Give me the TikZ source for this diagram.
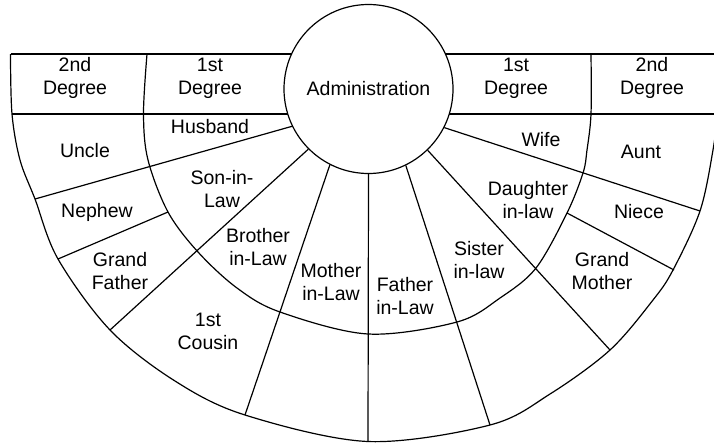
\documentclass[tikz,border=0pt]{standalone}
\usepackage{fontspec}
\setmainfont{Liberation Sans}
\begin{document}
\begin{tikzpicture}[x=1pt,y=-1pt,line width=1.2pt,line join=round,
  lbl/.style={font=\fontsize{19.5}{23}\selectfont,align=center,inner sep=0pt}]
\useasboundingbox (0,0) rectangle (714,442);
\clip (0,0) rectangle (714,442);
% central circle
\node[draw,circle,minimum size=169pt,inner sep=0pt,lbl] (admin) at (368.5,89) {Administration};
% outer boundary
\draw plot[smooth,tension=0.55] coordinates {(10.5,54) (12,114) (20,160) (35,199) (58,259) (110,330) (175,381) (245,415) (368,441.5) (490,425) (550,394) (610,350) (653,300) (673,270) (700,211) (713,150) (718,110)};
% inner ring
\draw plot[smooth,tension=0.55] coordinates {(147,54) (143.5,114) (148,160) (168,212) (198,252) (237,288) (280,312) (368,334) (457,322) (500,298) (536,268) (567,213) (583,173) (587,150) (591,114) (591,54)};
% header lines
\draw (10.5,54) -- (291.6,54);
\draw (445.4,54) -- (714,54);
\draw (12,114) -- (287.8,114);
\draw (449.2,114) -- (714,114);
% radial lines
\draw (admin.206.4) -- (35,199);
\draw (168,212) -- (58,259);
\draw (admin.225.7) -- (110,330);
\draw (admin.243.7) -- (245,415);
\draw (admin.270) -- (368,441.5);
\draw (admin.296.9) -- (490,425);
\draw (admin.314.8) -- (610,350);
\draw (admin.333.6) -- (700,211);
\draw (567,213) -- (674,270);
% labels
\node[lbl] (h2l) at (75,78) {2nd\\Degree};
\node[lbl] (h1l) at (210,78) {1st\\Degree};
\node[lbl] (h1r) at (516,78) {1st\\Degree};
\node[lbl] (h2r) at (652,78) {2nd\\Degree};
\node[lbl] (husband) at (210,127) {Husband};
\node[lbl] (uncle) at (85,151) {Uncle};
\node[lbl] (wife) at (541,140) {Wife};
\node[lbl] (aunt) at (641,152) {Aunt};
\node[lbl] (son) at (222,189) {Son-in-\\Law};
\node[lbl] (nephew) at (97,212) {Nephew};
\node[lbl] (brother) at (258,247) {Brother\\in-Law};
\node[lbl] (gfather) at (120,271) {Grand\\Father};
\node[lbl] (mother) at (331,282) {Mother\\in-Law};
\node[lbl] (father) at (405,296) {Father\\in-Law};
\node[lbl] (sister) at (479,260) {Sister\\in-law};
\node[lbl] (daughter) at (528,200) {Daughter\\in-law};
\node[lbl] (niece) at (639,212) {Niece};
\node[lbl] (gmother) at (602,271) {Grand\\Mother};
\node[lbl] (cousin) at (208,331) {1st\\Cousin};
\end{tikzpicture}
\end{document}
